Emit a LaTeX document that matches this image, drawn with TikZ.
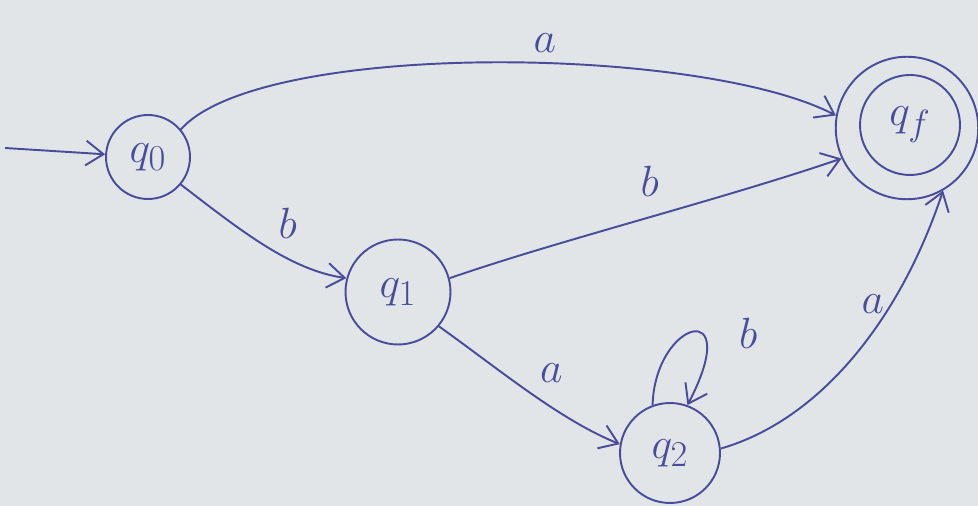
\documentclass[tikz,border=0pt]{standalone}
\usetikzlibrary{arrows.meta,positioning}
\definecolor{ink}{HTML}{4B4B9C}
\definecolor{paper}{HTML}{E2E5E7}
\begin{document}
\begin{tikzpicture}[x=0.02cm,y=-0.02cm,
  ink line/.style={draw=ink,line width=1.1pt},
  state/.style={ink line,circle,inner sep=0pt,text=ink,font=\fontsize{30}{34}\selectfont},
  edge/.style={ink line,-{Straight Barb[length=10pt,width=14pt,line width=1.1pt]}},
  lbl/.style={text=ink,font=\fontsize{30}{34}\selectfont}]
\fill[paper] (0,0) rectangle (978,506);
\useasboundingbox (0,0) rectangle (978,506);
\node[state,minimum size=1.68cm] (q0) at (148,157) {$q_0$};
\node[state,minimum size=2.1cm] (q1) at (398,292) {$q_1$};
\node[state,minimum size=2.0cm] (q2) at (670,453) {$q_2$};
\node[state,minimum size=2.0cm] (qfi) at (910,125) {$q_f$};
\node[ink line,circle,minimum size=2.85cm] (qf) at (907,128) {};
\coordinate (start) at (5,148);
\draw[edge] (start) -- (q0);
\draw[edge] (q0.40) .. controls (260,40) and (700,45) .. (qf.170) node[lbl,pos=0.57,above=2pt] {$a$};
\draw[edge] (q0.-40) .. controls (240,230) and (290,270) .. (q1.165) node[lbl,pos=0.5,above right=0pt and 4pt] {$b$};
\draw[edge] (q1.15) .. controls (560,240) and (720,200) .. (qf.205) node[lbl,pos=0.52,above=8pt] {$b$};
\draw[edge] (q1.-40) .. controls (500,370) and (560,420) .. (q2.170) node[lbl,pos=0.5,above right=2pt and 2pt] {$a$};
\draw[edge] (q2.110) .. controls (655,320) and (745,295) .. (q2.70) node[lbl,pos=0.6,right=18pt] {$b$};
\draw[edge] (q2.5) .. controls (820,420) and (900,320) .. (qf.-60) node[lbl,pos=0.68,left=0pt] {$a$};
\end{tikzpicture}
\end{document}
